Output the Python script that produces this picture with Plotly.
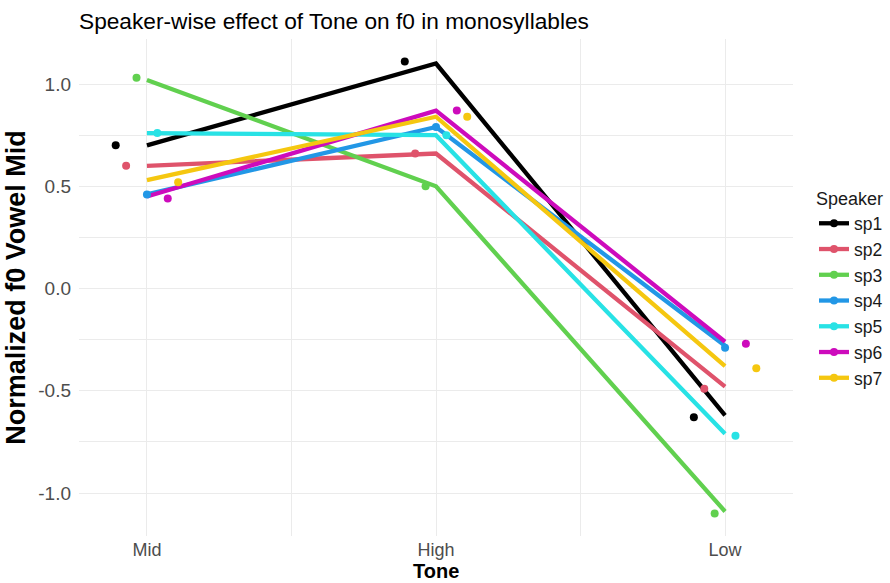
import plotly.graph_objects as go

tones = ["Mid", "High", "Low"]
speakers = ["sp1", "sp2", "sp3", "sp4", "sp5", "sp6", "sp7"]
colors = ["#000000", "#DF536B", "#61D04F", "#2297E6", "#28E2E5", "#CD0BBC", "#F5C710"]

# fitted values (lines)
fit_sp1 = [0.70, 1.10, -0.62]
fit_sp2 = [0.60, 0.66, -0.48]
fit_sp3 = [1.02, 0.50, -1.09]
fit_sp4 = [0.46, 0.79, -0.28]
fit_sp5 = [0.76, 0.75, -0.71]
fit_sp6 = [0.45, 0.87, -0.26]
fit_sp7 = [0.53, 0.84, -0.38]

# observed means (points)
mean_sp1 = [0.70, 1.11, -0.63]
mean_sp2 = [0.60, 0.66, -0.49]
mean_sp3 = [1.03, 0.50, -1.10]
mean_sp4 = [0.46, 0.79, -0.29]
mean_sp5 = [0.76, 0.75, -0.72]
mean_sp6 = [0.44, 0.87, -0.27]
mean_sp7 = [0.52, 0.84, -0.39]

fits = [fit_sp1, fit_sp2, fit_sp3, fit_sp4, fit_sp5, fit_sp6, fit_sp7]
means = [mean_sp1, mean_sp2, mean_sp3, mean_sp4, mean_sp5, mean_sp6, mean_sp7]

FONT = "Liberation Sans, Arial, sans-serif"
dodge = 0.036
xpos = list(range(len(tones)))
PLOT_TOP, PLOT_BOTTOM = 39, 536

fig = go.Figure()
for i, sp in enumerate(speakers):
    fig.add_trace(go.Scatter(x=xpos, y=fits[i], mode="lines",
                             line=dict(color=colors[i], width=4.3),
                             showlegend=False, hoverinfo="skip"))
for i, sp in enumerate(speakers):
    off = (i - 3) * dodge
    fig.add_trace(go.Scatter(x=[p + off for p in xpos], y=means[i], mode="markers",
                             marker=dict(color=colors[i], size=8),
                             showlegend=False, name=sp))
for i, sp in enumerate(speakers):
    fig.add_trace(go.Scatter(x=[None], y=[None], mode="lines+markers",
                             line=dict(color=colors[i], width=4.3),
                             marker=dict(color=colors[i], size=8),
                             name=sp, showlegend=True))

fig.update_layout(
    width=890, height=583,
    margin=dict(l=79, r=97, t=PLOT_TOP, b=583 - PLOT_BOTTOM),
    paper_bgcolor="white", plot_bgcolor="white",
    font=dict(family=FONT, color="#4d4d4d"),
    title=dict(text="Speaker-wise effect of Tone on f0 in monosyllables",
               x=79 / 890, xanchor="left", y=1 - 21 / 583, yanchor="middle",
               font=dict(size=22.7, color="black", family=FONT)),
    xaxis=dict(range=[-0.235, 2.235], tickvals=xpos, ticktext=tones,
               showgrid=True, gridcolor="#ebebeb", gridwidth=1.1,
               zeroline=False, showline=False, automargin=False,
               tickfont=dict(size=18, color="#4d4d4d"), ticklabelstandoff=1,
               minor=dict(tick0=0.5, dtick=1, showgrid=True, gridcolor="#ebebeb", gridwidth=0.6)),
    yaxis=dict(range=[-1.21, 1.22], tickvals=[-1.0, -0.5, 0.0, 0.5, 1.0],
               ticktext=["-1.0", "-0.5", "0.0", "0.5", "1.0"],
               showgrid=True, gridcolor="#ebebeb", gridwidth=1.1,
               zeroline=False, showline=False, automargin=False,
               tickfont=dict(size=19, color="#4d4d4d"), ticklabelstandoff=7,
               minor=dict(tick0=0.25, dtick=0.5, showgrid=True, gridcolor="#ebebeb", gridwidth=0.6),
               title=dict(text="<b>Normalized f0 Vowel Mid</b>", font=dict(size=27, color="black"), standoff=4)),
    legend=dict(xref="container", yref="container",
                x=814 / 890, xanchor="left", y=1 - 182 / 583, yanchor="top",
                title=dict(text="Speaker", font=dict(size=18, color="#1a1a1a")),
                font=dict(size=17.5, color="#1a1a1a"), tracegroupgap=0,
                itemwidth=30),
    annotations=[dict(text="<b>Tone</b>", xref="paper", yref="paper",
                      x=0.5, y=(PLOT_BOTTOM - 571) / (PLOT_BOTTOM - PLOT_TOP),
                      xanchor="center", yanchor="middle",
                      showarrow=False, font=dict(size=20, color="black", family=FONT))],
)

fig.write_html("out.html")
